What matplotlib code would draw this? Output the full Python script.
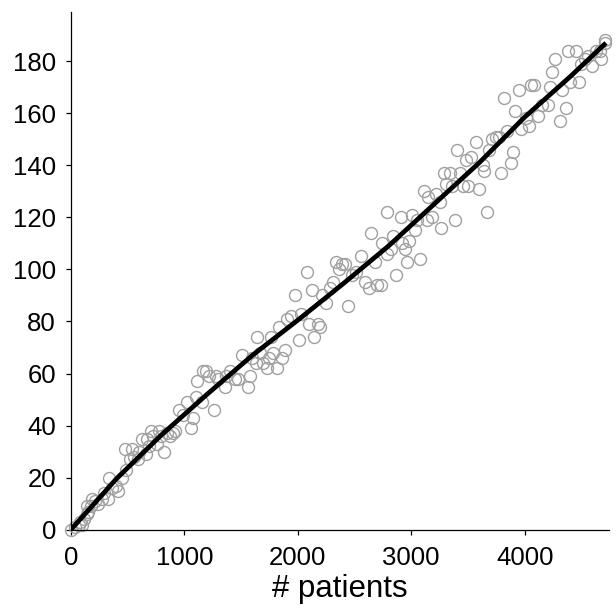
import numpy as np
import matplotlib
matplotlib.use("Agg")
import matplotlib.pyplot as plt

plt.rcParams['font.family'] = ['Liberation Sans', 'DejaVu Sans']

# Observed counts per cumulative number of patients
patients = [
    0, 35, 70, 85, 120, 100, 140, 155, 140, 175, 210, 190, 240, 275, 295, 330,
    340, 365, 415, 400, 450, 480, 485, 535, 520, 555, 590, 605, 630, 660, 675,
    710, 690, 725, 760, 780, 795, 825, 850, 870, 900, 920, 950, 985, 1020,
    1055, 1075, 1100, 1110, 1160, 1165, 1195, 1220, 1265, 1280, 1300, 1355,
    1370, 1400, 1445, 1470, 1505, 1560, 1580, 1595, 1630, 1645, 1670, 1695,
    1725, 1750, 1765, 1785, 1820, 1835, 1865, 1890, 1905, 1940, 1975, 2010,
    2025, 2080, 2095, 2125, 2145, 2180, 2200, 2215, 2250, 2285, 2315, 2340,
    2360, 2390, 2415, 2440, 2475, 2510, 2555, 2590, 2625, 2650, 2685, 2700,
    2735, 2745, 2790, 2790, 2820, 2840, 2865, 2910, 2915, 2945, 2961, 2980,
    3005, 3030, 3075, 3050, 3110, 3135, 3150, 3180, 3215, 3250, 3265, 3290,
    3305, 3340, 3360, 3385, 3400, 3430, 3460, 3480, 3505, 3530, 3575, 3595,
    3630, 3645, 3670, 3690, 3710, 3745, 3775, 3790, 3815, 3845, 3880, 3895,
    3915, 3950, 3965, 4015, 4035, 4060, 4085, 4120, 4150, 4210, 4225, 4240,
    4265, 4310, 4330, 4365, 4380, 4400, 4450, 4475, 4500, 4535, 4560, 4590,
    4625, 4660, 4675, 4705, 4710,
]
counts = [
    0, 1, 2, 3, 4, 2, 6, 7, 9, 9, 11, 12, 10, 12, 14, 12,
    20, 16, 15, 17, 20, 31, 23, 31, 27, 28, 27, 30, 35, 29, 35,
    38, 32, 36, 33, 38, 36, 30, 37, 36, 37, 38, 46, 44, 49,
    39, 43, 51, 57, 49, 61, 61, 59, 46, 59, 58, 55,
    59, 61, 58, 58, 67, 55, 59, 66, 64, 74, 68, 64,
    62, 66, 74, 68, 62, 78, 66, 69, 81, 82, 90, 73,
    83, 99, 79, 92, 74, 79, 78, 90, 87, 93, 95, 103,
    100, 102, 102, 86, 98, 99, 105, 95, 93, 114, 103, 94,
    94, 110, 122, 106, 108, 113, 98, 120, 110, 108, 103, 111,
    121, 115, 104, 119, 130, 119, 128, 120, 129, 126, 116, 137,
    133, 137, 132, 119, 146, 137, 132, 142, 132, 143, 149, 131,
    140, 138, 122, 146, 150, 151, 151, 137, 166, 153, 141, 145,
    161, 169, 154, 158, 155, 171, 171, 159, 163, 163, 170, 176,
    181, 157, 169, 162, 184, 172, 184, 172, 179, 181, 182, 178,
    184, 184, 181, 187, 188,
]

# Fitted trend
fit_patients = [0, 400, 800, 1200, 1600, 2000, 2400, 2800, 3200, 3600, 4000, 4400, 4717]
fit_counts = [0, 19.5, 36.5, 52, 67, 80.5, 94.5, 109, 125, 141, 158.5, 174, 187]

fig = plt.figure(figsize=(6.16, 6.16), dpi=100)
ax = fig.add_axes([0.115, 0.14, 0.873, 0.841])

ax.plot(patients, counts, linestyle='none', marker='o', markersize=8.6,
        markerfacecolor='none', markeredgecolor='#a0a0a0',
        markeredgewidth=1.0, clip_on=False, zorder=2)
ax.plot(fit_patients, fit_counts, color='black', linewidth=3.4,
        solid_capstyle='butt', zorder=3)

ax.set_xlim(0, 4740)
ax.set_ylim(0, 199)
ax.set_xticks([0, 1000, 2000, 3000, 4000])
ax.set_yticks([0, 20, 40, 60, 80, 100, 120, 140, 160, 180])

for side in ('top', 'right'):
    ax.spines[side].set_visible(False)
for side in ('left', 'bottom'):
    ax.spines[side].set_linewidth(0.9)

ax.tick_params(axis='both', direction='out', length=3.7, width=0.9,
               labelsize=18.5, colors='black')
ax.tick_params(axis='x', pad=8)
ax.tick_params(axis='y', pad=7)

ax.set_xlabel('# patients', fontsize=22.5, labelpad=3)

fig.savefig('out.png', dpi=100)
